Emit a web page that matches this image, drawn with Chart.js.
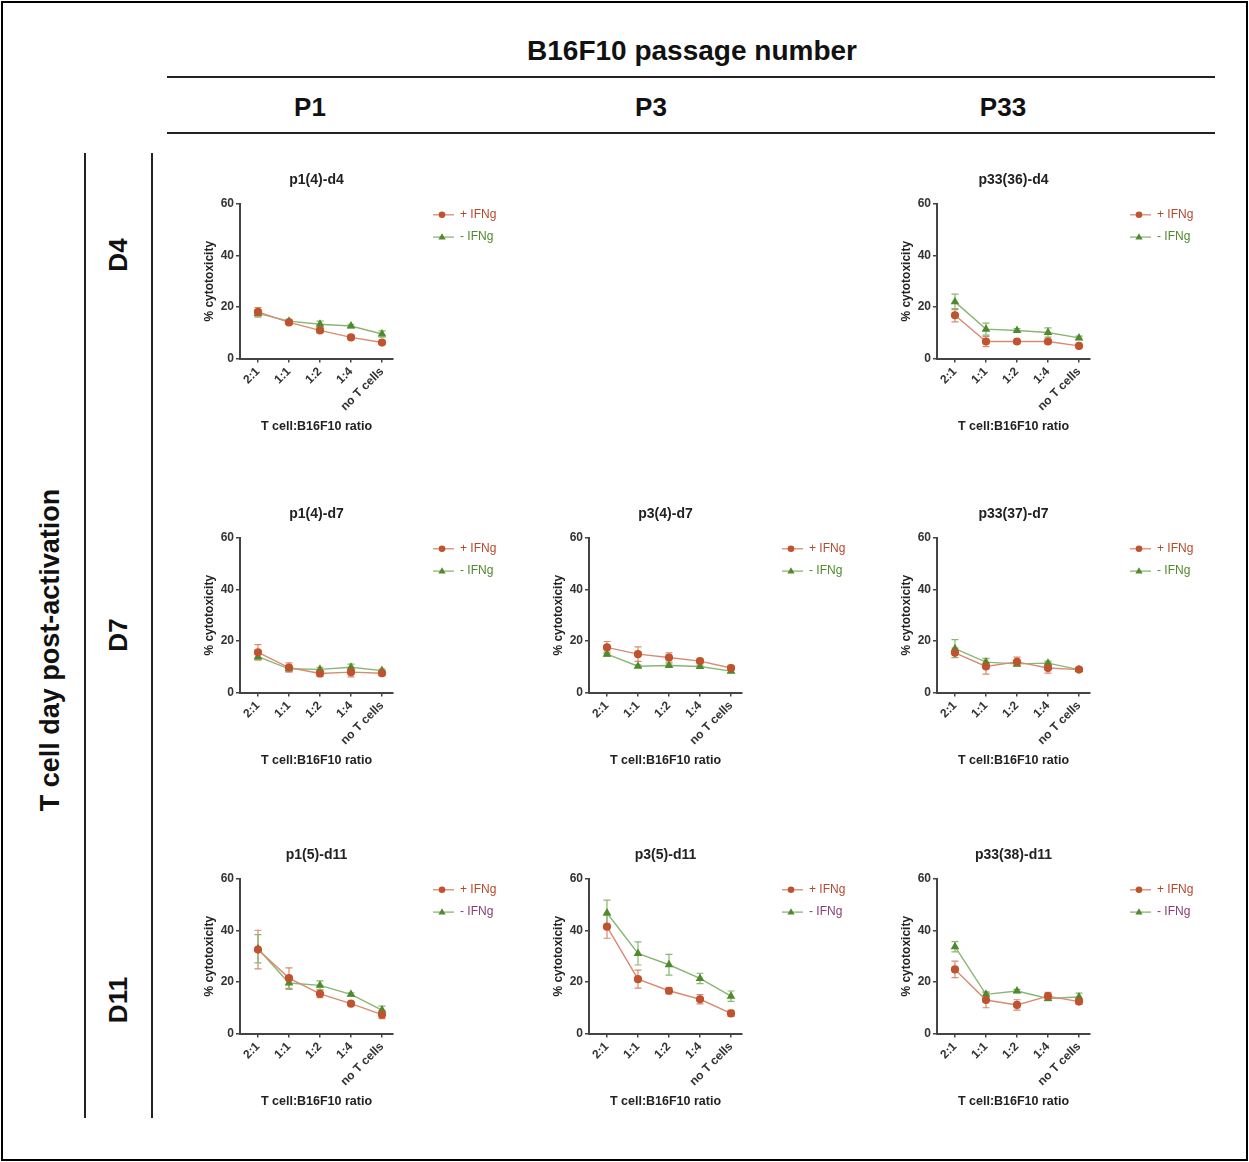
<!DOCTYPE html>
<html>
<head>
<meta charset="utf-8">
<script src="https://cdn.jsdelivr.net/npm/chart.js@4.4.1/dist/chart.umd.min.js"></script>
<style>
  html, body { margin: 0; padding: 0; background: #fff; }
  body { width: 1249px; height: 1162px; position: relative; overflow: hidden;
         font-family: "Liberation Sans", Arial, sans-serif; color: #111; }
  .frame { position: absolute; left: 1px; top: 1px; width: 1243px; height: 1156px; border: 2px solid #000; }
  .hline { position: absolute; height: 2px; background: #222; }
  .vline { position: absolute; width: 2px; background: #222; }
  .lbl { position: absolute; font-weight: bold; white-space: nowrap; transform: translate(-50%, -50%); }
  .rot { transform: translate(-50%, -50%) rotate(-90deg); }
  canvas { position: absolute; }
</style>
</head>
<body>
<div class="frame"></div>
<div class="lbl" style="left:692px;top:51px;font-size:28px;">B16F10 passage number</div>
<div class="hline" style="left:167px;top:76px;width:1048px;"></div>
<div class="lbl" style="left:310px;top:107px;font-size:26px;">P1</div>
<div class="lbl" style="left:651px;top:107px;font-size:26px;">P3</div>
<div class="lbl" style="left:1003px;top:107px;font-size:26px;">P33</div>
<div class="hline" style="left:167px;top:132px;width:1048px;"></div>
<div class="vline" style="left:84px;top:153px;height:965px;"></div>
<div class="vline" style="left:151px;top:153px;height:965px;"></div>
<div class="lbl rot" style="left:50px;top:650px;font-size:27px;">T cell day post-activation</div>
<div class="lbl rot" style="left:118px;top:255px;font-size:26px;">D4</div>
<div class="lbl rot" style="left:118px;top:635px;font-size:26px;">D7</div>
<div class="lbl rot" style="left:118px;top:1000px;font-size:26px;">D11</div>

<script>
const ratios = ["2:1", "1:1", "1:2", "1:4", "no T cells"];
const yTickValues = [0, 20, 40, 60];

// p1(4)-d4
const p1d4Plus = [18.1, 14.0, 10.9, 8.2, 6.2];
const p1d4PlusErr = [1.7, 0.8, 0.9, 0.8, 0.6];
const p1d4Minus = [17.5, 14.5, 13.3, 12.6, 9.5];
const p1d4MinusErr = [1.4, 0.7, 1.2, 0.7, 1.2];

// p33(36)-d4
const p33d4Plus = [16.8, 6.6, 6.6, 6.6, 4.9];
const p33d4PlusErr = [2.6, 2.0, 0.5, 0.5, 0.5];
const p33d4Minus = [22.0, 11.4, 10.9, 10.1, 8.0];
const p33d4MinusErr = [3.0, 2.3, 0.7, 1.8, 0.7];

// p1(4)-d7
const p1d7Plus = [15.6, 9.7, 7.4, 7.9, 7.5];
const p1d7PlusErr = [3.0, 1.8, 1.2, 1.8, 1.0];
const p1d7Minus = [13.9, 9.2, 9.0, 9.8, 8.5];
const p1d7MinusErr = [1.0, 1.0, 0.8, 1.2, 0.6];

// p3(4)-d7
const p3d7Plus = [17.5, 14.9, 13.6, 12.2, 9.5];
const p3d7PlusErr = [2.3, 2.8, 1.8, 0.8, 1.0];
const p3d7Minus = [14.9, 10.2, 10.5, 10.1, 8.3];
const p3d7MinusErr = [0.8, 0.5, 0.6, 0.5, 0.6];

// p33(37)-d7
const p33d7Plus = [15.4, 10.1, 11.9, 9.5, 8.9];
const p33d7PlusErr = [1.8, 3.0, 1.8, 2.0, 0.5];
const p33d7Minus = [17.0, 11.8, 11.1, 11.4, 8.9];
const p33d7MinusErr = [3.5, 1.5, 1.0, 0.8, 0.6];

// p1(5)-d11
const p1d11Plus = [32.6, 21.5, 15.4, 11.6, 7.3];
const p1d11PlusErr = [7.5, 4.0, 1.5, 0.8, 1.5];
const p1d11Minus = [32.9, 19.6, 18.7, 15.2, 9.1];
const p1d11MinusErr = [5.5, 2.5, 1.7, 0.6, 1.5];

// p3(5)-d11
const p3d11Plus = [41.5, 21.1, 16.6, 13.3, 7.8];
const p3d11PlusErr = [4.5, 3.5, 1.2, 1.8, 1.2];
const p3d11Minus = [46.8, 31.1, 26.7, 21.4, 14.5];
const p3d11MinusErr = [5.0, 4.5, 4.0, 2.0, 2.0];

// p33(38)-d11
const p33d11Plus = [24.9, 13.0, 11.1, 14.5, 12.4];
const p33d11PlusErr = [3.2, 3.0, 2.0, 1.5, 1.0];
const p33d11Minus = [33.7, 15.2, 16.5, 13.6, 14.2];
const p33d11MinusErr = [2.0, 1.0, 0.6, 0.8, 1.5];

const panels = [
  { title: "p1(4)-d4", col: 0, row: 0, plus: p1d4Plus, plusErr: p1d4PlusErr, minus: p1d4Minus, minusErr: p1d4MinusErr },
  { title: "p33(36)-d4", col: 2, row: 0, plus: p33d4Plus, plusErr: p33d4PlusErr, minus: p33d4Minus, minusErr: p33d4MinusErr },
  { title: "p1(4)-d7", col: 0, row: 1, plus: p1d7Plus, plusErr: p1d7PlusErr, minus: p1d7Minus, minusErr: p1d7MinusErr },
  { title: "p3(4)-d7", col: 1, row: 1, plus: p3d7Plus, plusErr: p3d7PlusErr, minus: p3d7Minus, minusErr: p3d7MinusErr },
  { title: "p33(37)-d7", col: 2, row: 1, plus: p33d7Plus, plusErr: p33d7PlusErr, minus: p33d7Minus, minusErr: p33d7MinusErr },
  { title: "p1(5)-d11", col: 0, row: 2, plus: p1d11Plus, plusErr: p1d11PlusErr, minus: p1d11Minus, minusErr: p1d11MinusErr },
  { title: "p3(5)-d11", col: 1, row: 2, plus: p3d11Plus, plusErr: p3d11PlusErr, minus: p3d11Minus, minusErr: p3d11MinusErr },
  { title: "p33(38)-d11", col: 2, row: 2, plus: p33d11Plus, plusErr: p33d11PlusErr, minus: p33d11Minus, minusErr: p33d11MinusErr }
];

// layout of the grid (page px)
const colAxisX = [240, 589, 937];
const rowTopY = [204, 538, 878.5];
const CW = 350, CH = 285;

const RED = "#c0532f", RED_LINE = "#d98b72";
const GREEN = "#4f8a2e", GREEN_LINE = "#8ab673";
const PURPLE = "#8b3d74";

Chart.defaults.font.family = "'Liberation Sans', Arial, sans-serif";
Chart.defaults.color = "#333";

const errorBars = {
  id: "errorBars",
  beforeDatasetsDraw(chart) {
    const { ctx, scales: { x, y } } = chart;
    chart.data.datasets.forEach((ds) => {
      if (!ds.errors) return;
      ctx.save();
      ctx.strokeStyle = ds.borderColor;
      ctx.lineWidth = 1.2;
      ds.data.forEach((pt, i) => {
        const px = x.getPixelForValue(pt.x);
        const top = y.getPixelForValue(pt.y + ds.errors[i]);
        const bot = y.getPixelForValue(pt.y - ds.errors[i]);
        ctx.beginPath();
        ctx.moveTo(px, top); ctx.lineTo(px, bot);
        ctx.moveTo(px - 3.5, top); ctx.lineTo(px + 3.5, top);
        ctx.moveTo(px - 3.5, bot); ctx.lineTo(px + 3.5, bot);
        ctx.stroke();
      });
      ctx.restore();
    });
  }
};

const sideLegend = {
  id: "sideLegend",
  afterDraw(chart) {
    const { ctx, chartArea } = chart;
    chart.data.datasets.forEach((ds, i) => {
      const yy = chartArea.top + 10.8 + i * 22.3;
      const x0 = chartArea.left + 193;
      ctx.save();
      ctx.strokeStyle = ds.borderColor;
      ctx.lineWidth = 1.3;
      ctx.beginPath();
      ctx.moveTo(x0, yy); ctx.lineTo(x0 + 21, yy);
      ctx.stroke();
      ctx.fillStyle = ds.pointBackgroundColor;
      ctx.beginPath();
      const mx = x0 + 9;
      if (ds.pointStyle === "triangle") {
        ctx.moveTo(mx, yy - 3.8); ctx.lineTo(mx + 3.6, yy + 2.4); ctx.lineTo(mx - 3.6, yy + 2.4);
        ctx.closePath();
      } else {
        ctx.arc(mx, yy, 3.3, 0, Math.PI * 2);
      }
      ctx.fill();
      ctx.fillStyle = ds.legendColor;
      ctx.font = "12px 'Liberation Sans', Arial, sans-serif";
      ctx.textBaseline = "middle";
      ctx.fillText(ds.label, x0 + 27, yy);
      ctx.restore();
    });
  }
};

const toPoints = (vals) => vals.map((v, i) => ({ x: i, y: v }));

panels.forEach((p) => {
  const canvas = document.createElement("canvas");
  canvas.width = CW;
  canvas.height = CH;
  canvas.style.left = (colAxisX[p.col] - 80) + "px";
  canvas.style.top = (rowTopY[p.row] - 44) + "px";
  document.body.appendChild(canvas);

  new Chart(canvas, {
    type: "line",
    data: {
      datasets: [
        {
          label: "+ IFNg",
          data: toPoints(p.plus),
          errors: p.plusErr,
          borderColor: RED_LINE,
          borderWidth: 1.4,
          pointStyle: "circle",
          pointRadius: 3.4,
          pointBackgroundColor: RED,
          pointBorderColor: RED,
          legendColor: "#b4492c"
        },
        {
          label: "- IFNg",
          data: toPoints(p.minus),
          errors: p.minusErr,
          borderColor: GREEN_LINE,
          borderWidth: 1.4,
          pointStyle: "triangle",
          pointRadius: 3.6,
          pointBackgroundColor: GREEN,
          pointBorderColor: GREEN,
          legendColor: p.row === 2 ? PURPLE : GREEN
        }
      ]
    },
    options: {
      responsive: false,
      animation: false,
      devicePixelRatio: 1,
      layout: { padding: { left: 30, right: CW - 233, top: 0, bottom: 8 } },
      plugins: {
        legend: { display: false },
        tooltip: { enabled: false },
        title: {
          display: true,
          text: p.title,
          fullSize: false,
          color: "#222",
          font: { size: 14, weight: "bold" },
          padding: { top: 11.6, bottom: 15.6 }
        }
      },
      scales: {
        x: {
          type: "linear",
          min: -0.58,
          max: 4.355,
          afterFit: (s) => { s.height = CH - 8 - 198.5; },
          afterBuildTicks: (s) => { s.ticks = ratios.map((_, i) => ({ value: i })); },
          grid: { display: true, drawOnChartArea: false, drawTicks: true, tickLength: 4, color: "#444", lineWidth: 1.5 },
          border: { display: true, color: "#444", width: 2 },
          ticks: {
            autoSkip: false,
            minRotation: 45,
            maxRotation: 45,
            padding: 2,
            color: "#333",
            font: { size: 12, weight: "bold" },
            callback: (v) => ratios[v]
          },
          title: {
            display: true,
            text: "T cell:B16F10 ratio",
            color: "#222",
            font: { size: 12.5, weight: "bold" },
            padding: { top: 0, bottom: 3 }
          }
        },
        y: {
          min: 0,
          max: 60,
          afterFit: (s) => { s.width = 50; },
          afterBuildTicks: (s) => { s.ticks = yTickValues.map((v) => ({ value: v })); },
          grid: { display: true, drawOnChartArea: false, drawTicks: true, tickLength: 4, color: "#444", lineWidth: 1.5 },
          border: { display: true, color: "#444", width: 2 },
          ticks: { padding: 2, color: "#333", font: { size: 12, weight: "bold" } },
          title: {
            display: true,
            text: "% cytotoxicity",
            color: "#222",
            font: { size: 12, weight: "bold" },
            padding: { top: 12.8, bottom: 0 }
          }
        }
      }
    },
    plugins: [errorBars, sideLegend]
  });
});
</script>
</body>
</html>
